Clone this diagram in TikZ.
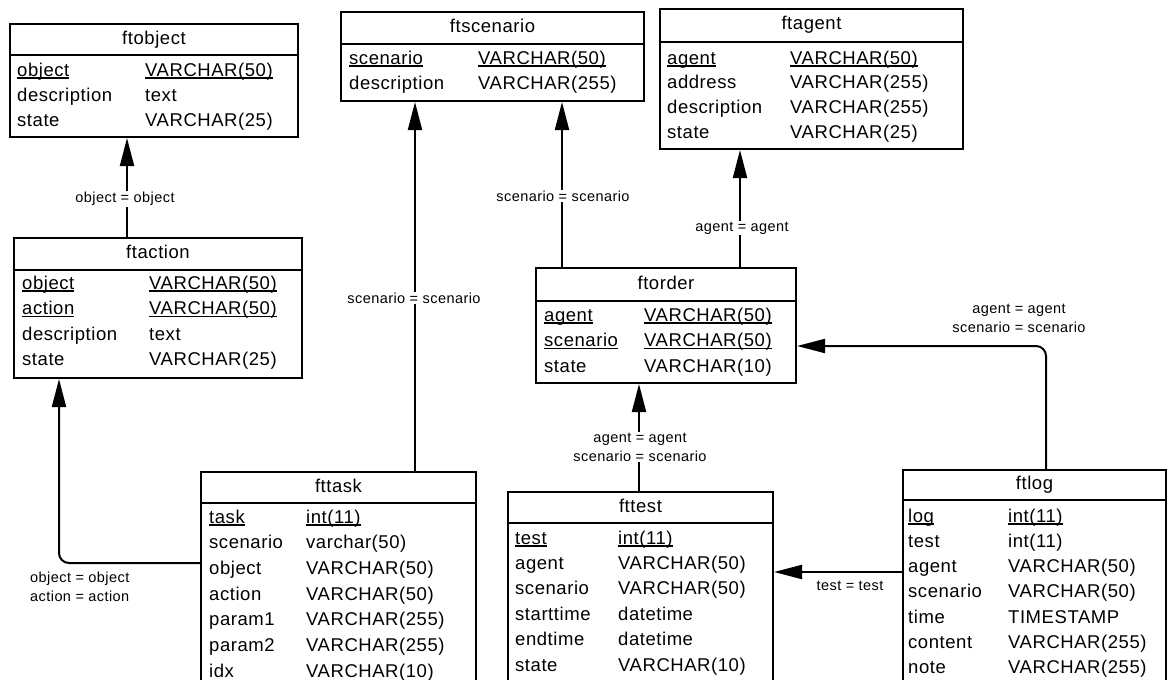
\documentclass[tikz,border=0pt]{standalone}
\usepackage{fontspec}
\setmainfont{Liberation Sans}[LetterSpace=3]
\usetikzlibrary{arrows.meta}

% key fields: underlined name and type
\newcommand\pk[1]{\setbox0\hbox{#1}\rlap{\rule[-2.5pt]{\wd0}{1.3pt}}\box0}

\tikzset{
  tbl/.style={draw=black, line width=2pt, anchor=north west, inner sep=0pt},
  ttl/.style={draw=black, line width=2pt, anchor=north west, inner sep=0pt,
    text height=13pt, text depth=4pt, font=\fontsize{18.5}{20}\selectfont},
  fld/.style={anchor=base west, inner sep=0pt, font=\fontsize{18.5}{20}\selectfont},
  fk/.style={line width=2pt, -{Triangle[length=28pt,width=14pt]}},
  lbl/.style={fill=white, inner sep=1pt, align=center, font=\fontsize{14.5}{19}\selectfont}
}

\begin{document}
\begin{tikzpicture}[x=1pt,y=-1pt]
    \clip (0,0) rectangle (1171,680);

    % ftobject
    \node[tbl, minimum width=288pt, minimum height=113pt] (ftobject) at (9,23) {};
    \node[ttl, minimum width=288pt, minimum height=31pt] (ftobject-h) at (9,23) {ftobject};
    \foreach \c/\t [count=\i from 0] in {\pk{object}/\pk{VARCHAR(50)}, description/text, state/VARCHAR(25)} {
        \node[fld] (ftobject-c\i) at (17,{76+25.3*\i}) {\c};
        \node[fld] (ftobject-d\i) at (145,{76+25.3*\i}) {\t};
    }

    % ftscenario
    \node[tbl, minimum width=303pt, minimum height=89pt] (ftscenario) at (340,11) {};
    \node[ttl, minimum width=303pt, minimum height=32pt] (ftscenario-h) at (340,11) {ftscenario};
    \foreach \c/\t [count=\i from 0] in {\pk{scenario}/\pk{VARCHAR(50)}, description/VARCHAR(255)} {
        \node[fld] (ftscenario-c\i) at (349,{64+25*\i}) {\c};
        \node[fld] (ftscenario-d\i) at (478,{64+25*\i}) {\t};
    }

    % ftagent
    \node[tbl, minimum width=303pt, minimum height=140pt] (ftagent) at (659,8) {};
    \node[ttl, minimum width=303pt, minimum height=33pt] (ftagent-h) at (659,8) {ftagent};
    \foreach \c/\t [count=\i from 0] in {\pk{agent}/\pk{VARCHAR(50)}, address/VARCHAR(255), description/VARCHAR(255), state/VARCHAR(25)} {
        \node[fld] (ftagent-c\i) at (667,{64+24.8*\i}) {\c};
        \node[fld] (ftagent-d\i) at (790,{64+24.8*\i}) {\t};
    }

    % ftaction
    \node[tbl, minimum width=288pt, minimum height=140pt] (ftaction) at (13,237) {};
    \node[ttl, minimum width=288pt, minimum height=32pt] (ftaction-h) at (13,237) {ftaction};
    \foreach \c/\t [count=\i from 0] in {\pk{object}/\pk{VARCHAR(50)}, \pk{action}/\pk{VARCHAR(50)}, description/text, state/VARCHAR(25)} {
        \node[fld] (ftaction-c\i) at (22,{289+25.5*\i}) {\c};
        \node[fld] (ftaction-d\i) at (149,{289+25.5*\i}) {\t};
    }

    % ftorder
    \node[tbl, minimum width=260pt, minimum height=115pt] (ftorder) at (535,267) {};
    \node[ttl, minimum width=260pt, minimum height=33pt] (ftorder-h) at (535,267) {ftorder};
    \foreach \c/\t [count=\i from 0] in {\pk{agent}/\pk{VARCHAR(50)}, \pk{scenario}/\pk{VARCHAR(50)}, state/VARCHAR(10)} {
        \node[fld] (ftorder-c\i) at (544,{321+25.5*\i}) {\c};
        \node[fld] (ftorder-d\i) at (644,{321+25.5*\i}) {\t};
    }

    % fttask
    \node[tbl, minimum width=275pt, minimum height=230pt] (fttask) at (200,471) {};
    \node[ttl, minimum width=275pt, minimum height=31pt] (fttask-h) at (200,471) {fttask};
    \foreach \c/\t [count=\i from 0] in {\pk{task}/\pk{int(11)}, scenario/varchar(50), object/VARCHAR(50), action/VARCHAR(50), param1/VARCHAR(255), param2/VARCHAR(255), idx/VARCHAR(10)} {
        \node[fld] (fttask-c\i) at (209,{523+25.67*\i}) {\c};
        \node[fld] (fttask-d\i) at (306,{523+25.67*\i}) {\t};
    }

    % fttest
    \node[tbl, minimum width=265pt, minimum height=210pt] (fttest) at (507,491) {};
    \node[ttl, minimum width=265pt, minimum height=31pt] (fttest-h) at (507,491) {fttest};
    \foreach \c/\t [count=\i from 0] in {\pk{test}/\pk{int(11)}, agent/VARCHAR(50), scenario/VARCHAR(50), starttime/datetime, endtime/datetime, state/VARCHAR(10)} {
        \node[fld] (fttest-c\i) at (515,{544+25.4*\i}) {\c};
        \node[fld] (fttest-d\i) at (618,{544+25.4*\i}) {\t};
    }

    % ftlog
    \node[tbl, minimum width=263pt, minimum height=230pt] (ftlog) at (902,469) {};
    \node[ttl, minimum width=263pt, minimum height=30pt] (ftlog-h) at (902,469) {ftlog};
    \foreach \c/\t [count=\i from 0] in {\pk{log}/\pk{int(11)}, test/int(11), agent/VARCHAR(50), scenario/VARCHAR(50), time/TIMESTAMP, content/VARCHAR(255), note/VARCHAR(255)} {
        \node[fld] (ftlog-c\i) at (908,{522+25.33*\i}) {\c};
        \node[fld] (ftlog-d\i) at (1008,{522+25.33*\i}) {\t};
    }

    % relations
    \draw[fk] ([xshift=114pt]ftaction.north west) coordinate (r1) -- (r1 |- ftobject.south);
    \draw[fk] ([xshift=215pt]fttask.north west) coordinate (r2) -- (r2 |- ftscenario.south);
    \draw[fk] ([xshift=27pt]ftorder.north west) coordinate (r3) -- (r3 |- ftscenario.south);
    \draw[fk] ([xshift=205pt]ftorder.north west) coordinate (r4) -- (r4 |- ftagent.south);
    \draw[fk] ([xshift=132pt]fttest.north west) coordinate (r5) -- (r5 |- ftorder.south);
    \draw[fk, rounded corners=10pt] ([xshift=144pt]ftlog.north west) |- ([yshift=-79pt]ftorder.north east);
    \draw[fk] ([yshift=-103pt]ftlog.north west) coordinate (r7) -- (r7 -| fttest.east);
    \draw[fk, rounded corners=10pt] ([yshift=-92pt]fttask.north west) -| ([xshift=46pt]ftaction.south west);

    \node[lbl] (l1) at (125,199) {object = object};
    \node[lbl] (l2) at (414,298) {scenario = scenario};
    \node[lbl] (l3) at (563,196) {scenario = scenario};
    \node[lbl] (l4) at (742,228) {agent = agent};
    \node[lbl] (l5) at (640,447) {agent = agent\\scenario = scenario};
    \node[lbl] (l6) at (1019,318) {agent = agent\\scenario = scenario};
    \node[lbl] (l7) at (850,586) {test = test};
    \node[lbl, align=left, anchor=west] (l8) at (29,587) {object = object\\action = action};
\end{tikzpicture}
\end{document}
